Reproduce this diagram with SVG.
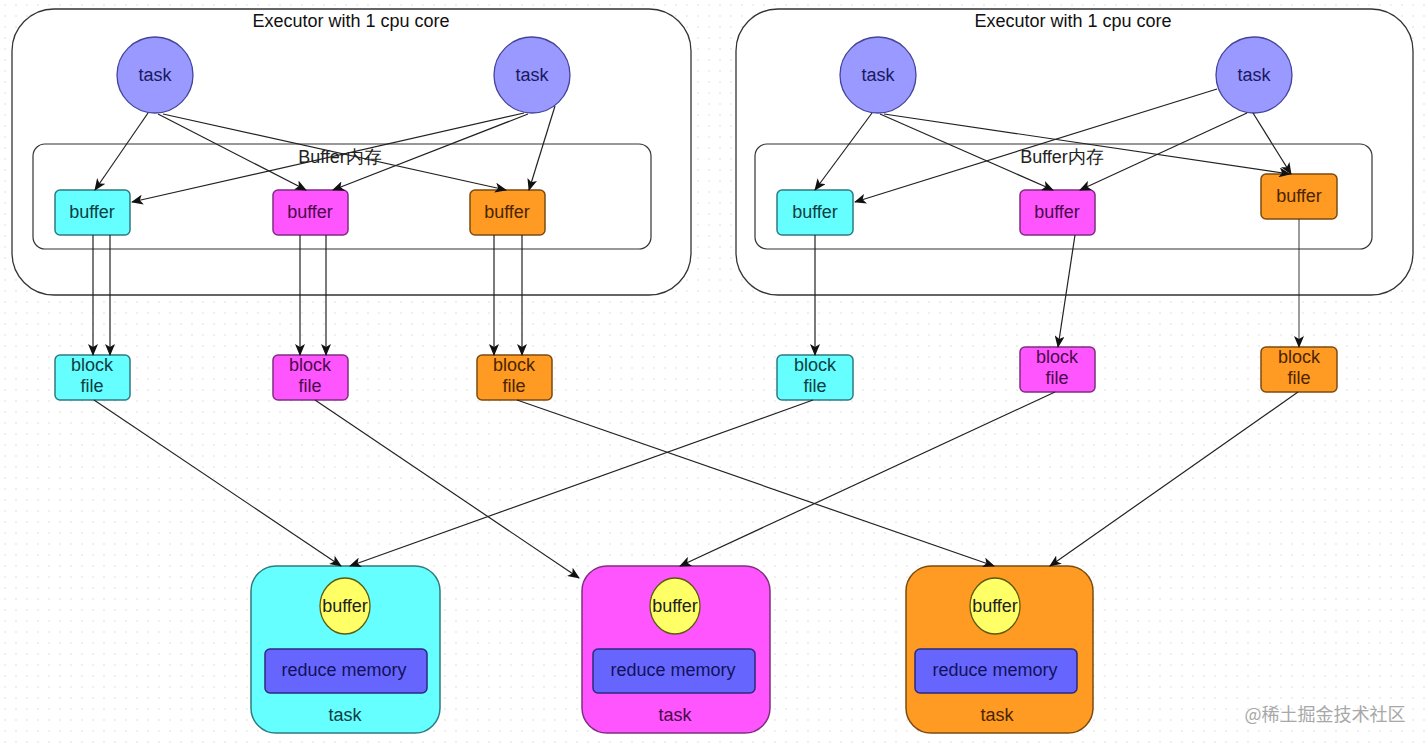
<svg xmlns="http://www.w3.org/2000/svg" width="1425" height="743" viewBox="0 0 1425 743">
<defs>
<pattern id="dots" width="11" height="11" patternUnits="userSpaceOnUse"><circle cx="5" cy="5" r="0.9" fill="#e8e8e8"/></pattern>
<marker id="arr" markerWidth="12" markerHeight="10" refX="11" refY="5" orient="auto" markerUnits="userSpaceOnUse"><path d="M0,0 L12,5 L0,10 L3,5 Z" fill="#111"/></marker>
<style>
text{font-family:"Liberation Sans",Arial,sans-serif;font-size:18px;text-anchor:middle;dominant-baseline:central}
.exec{fill:#fff;stroke:#333;stroke-width:1.3}
.mem{fill:#fff;stroke:#333;stroke-width:1.2}
.task{fill:#9999ff;stroke:#44449a;stroke-width:1.3}
.task-t{fill:#1a1a60}
.cy{fill:#66ffff;stroke:#2f7b80;stroke-width:1.5}
.cy-t{fill:#0d3e44}
.mg{fill:#ff55ff;stroke:#7f2e80;stroke-width:1.5}
.mg-t{fill:#4a0a4a}
.or{fill:#ff9a22;stroke:#7a4c12;stroke-width:1.5}
.or-t{fill:#4a2500}
.yel{fill:#ffff66;stroke:#5a5a10;stroke-width:1.3}
.rm{fill:#6666ff;stroke:#2a2a80;stroke-width:1.5}
.rm-t{fill:#12125a}
.c line{stroke:#222;stroke-width:1.2;marker-end:url(#arr)}
</style>
</defs>
<rect width="1425" height="743" fill="#fff"/>
<rect width="1425" height="743" fill="url(#dots)"/>

<g id="executor1">
<rect class="exec" x="12" y="9" width="679" height="286" rx="42"/>
<text x="351" y="21" fill="#111">Executor with 1 cpu core</text>
<rect class="mem" x="33" y="144" width="618" height="105" rx="12"/>
<text x="340" y="157" fill="#222">Buffer内存</text>
</g>
<g id="executor2">
<rect class="exec" x="736" y="9" width="677" height="286" rx="42"/>
<text x="1073" y="21" fill="#111">Executor with 1 cpu core</text>
<rect class="mem" x="755" y="144" width="617" height="105" rx="12"/>
<text x="1062" y="157" fill="#222">Buffer内存</text>
</g>

<g id="task-l1"><ellipse class="task" cx="155" cy="75" rx="38" ry="38"/><text class="task-t" x="155" y="75">task</text></g>
<g id="task-l2"><ellipse class="task" cx="532" cy="75" rx="38" ry="38"/><text class="task-t" x="532" y="75">task</text></g>
<g id="task-r1"><ellipse class="task" cx="878" cy="75" rx="38" ry="38"/><text class="task-t" x="878" y="75">task</text></g>
<g id="task-r2"><ellipse class="task" cx="1254" cy="75" rx="38" ry="38"/><text class="task-t" x="1254" y="75">task</text></g>

<g id="buf-l-cy"><rect class="cy" x="55" y="190" width="75" height="45" rx="5"/><text class="cy-t" x="92" y="212">buffer</text></g>
<g id="buf-l-mg"><rect class="mg" x="273" y="190" width="75" height="45" rx="5"/><text class="mg-t" x="310" y="212">buffer</text></g>
<g id="buf-l-or"><rect class="or" x="470" y="190" width="75" height="45" rx="5"/><text class="or-t" x="507" y="212">buffer</text></g>
<g id="buf-r-cy"><rect class="cy" x="777" y="190" width="76" height="45" rx="5"/><text class="cy-t" x="815" y="212">buffer</text></g>
<g id="buf-r-mg"><rect class="mg" x="1020" y="190" width="75" height="45" rx="5"/><text class="mg-t" x="1057" y="212">buffer</text></g>
<g id="buf-r-or"><rect class="or" x="1261" y="174" width="76" height="45" rx="5"/><text class="or-t" x="1299" y="196">buffer</text></g>

<g id="blk-l-cy"><rect class="cy" x="55" y="355" width="75" height="45" rx="5"/><text class="cy-t" x="92" y="365">block</text><text class="cy-t" x="92" y="386">file</text></g>
<g id="blk-l-mg"><rect class="mg" x="273" y="355" width="75" height="45" rx="5"/><text class="mg-t" x="310" y="365">block</text><text class="mg-t" x="310" y="386">file</text></g>
<g id="blk-l-or"><rect class="or" x="477" y="355" width="75" height="45" rx="5"/><text class="or-t" x="514" y="365">block</text><text class="or-t" x="514" y="386">file</text></g>
<g id="blk-r-cy"><rect class="cy" x="777" y="355" width="76" height="45" rx="5"/><text class="cy-t" x="815" y="365">block</text><text class="cy-t" x="815" y="386">file</text></g>
<g id="blk-r-mg"><rect class="mg" x="1020" y="347" width="75" height="45" rx="5"/><text class="mg-t" x="1057" y="357">block</text><text class="mg-t" x="1057" y="378">file</text></g>
<g id="blk-r-or"><rect class="or" x="1261" y="347" width="76" height="45" rx="5"/><text class="or-t" x="1299" y="357">block</text><text class="or-t" x="1299" y="378">file</text></g>

<g id="reduce-cy"><rect class="cy" x="251" y="566" width="189" height="167" rx="25"/><ellipse class="yel" cx="345" cy="606" rx="25" ry="28"/><text fill="#222" x="345" y="606">buffer</text><rect class="rm" x="265" y="649" width="162" height="44" rx="5"/><text class="rm-t" x="344" y="670">reduce memory</text><text class="cy-t" x="345" y="715">task</text></g>
<g id="reduce-mg"><rect class="mg" x="582" y="566" width="188" height="167" rx="25"/><ellipse class="yel" cx="675" cy="606" rx="25" ry="28"/><text fill="#222" x="675" y="606">buffer</text><rect class="rm" x="593" y="649" width="162" height="44" rx="5"/><text class="rm-t" x="673" y="670">reduce memory</text><text class="mg-t" x="675" y="715">task</text></g>
<g id="reduce-or"><rect class="or" x="906" y="566" width="187" height="167" rx="25"/><ellipse class="yel" cx="995" cy="606" rx="25" ry="28"/><text fill="#222" x="995" y="606">buffer</text><rect class="rm" x="915" y="649" width="162" height="44" rx="5"/><text class="rm-t" x="995" y="670">reduce memory</text><text class="or-t" x="997" y="715">task</text></g>

<g id="connectors" class="c">
<line x1="148" y1="113" x2="95" y2="190"/>
<line x1="158" y1="114" x2="306" y2="190"/>
<line x1="163" y1="114" x2="506" y2="190"/>
<line x1="524" y1="113" x2="132" y2="202"/>
<line x1="528" y1="114" x2="333" y2="190"/>
<line x1="555" y1="106" x2="529" y2="190"/>
<line x1="872" y1="113" x2="815" y2="190"/>
<line x1="880" y1="114" x2="1053" y2="190"/>
<line x1="884" y1="114" x2="1290" y2="174"/>
<line x1="1217" y1="89" x2="855" y2="202"/>
<line x1="1247" y1="113" x2="1080" y2="190"/>
<line x1="1253" y1="113" x2="1291" y2="174"/>
<line x1="93" y1="235" x2="93" y2="355"/>
<line x1="110" y1="235" x2="110" y2="355"/>
<line x1="300" y1="235" x2="300" y2="355"/>
<line x1="326" y1="235" x2="326" y2="355"/>
<line x1="494" y1="235" x2="494" y2="355"/>
<line x1="522" y1="235" x2="522" y2="355"/>
<line x1="815" y1="235" x2="815" y2="355"/>
<line x1="1075" y1="235" x2="1058" y2="347"/>
<line x1="1299" y1="219" x2="1299" y2="347" style="stroke-width:0.9"/>
<line x1="94" y1="400" x2="341" y2="566"/>
<line x1="813" y1="400" x2="350" y2="566"/>
<line x1="315" y1="400" x2="579" y2="578"/>
<line x1="1055" y1="392" x2="680" y2="566"/>
<line x1="517" y1="400" x2="994" y2="566"/>
<line x1="1298" y1="392" x2="1050" y2="566"/>
</g>

<text x="1325" y="713" style="font-family:'Noto Sans CJK SC','Liberation Sans',sans-serif;font-size:18px;fill:#a8a8a8">@稀土掘金技术社区</text>
</svg>
